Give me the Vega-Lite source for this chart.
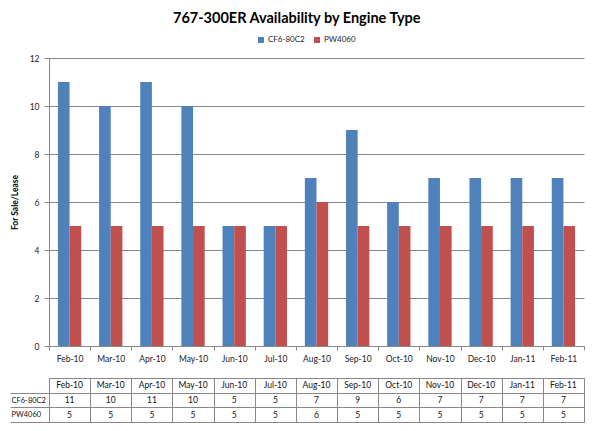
{
  "$schema": "https://vega.github.io/schema/vega-lite/v6.json",
  "padding": {"left": 9, "top": 10, "right": 11, "bottom": 5},
  "background": "white",
  "title": {"text": "767-300ER Availability by Engine Type", "font": "Lato", "fontSize": 14.5, "fontWeight": "bold", "color": "#000", "offset": 10, "anchor": "middle"},
  "config": {"font": "Lato", "view": {"stroke": null}},
  "data": {"values": [
    {"month": "Feb-10", "engine": "CF6-80C2", "value": 11},
    {"month": "Mar-10", "engine": "CF6-80C2", "value": 10},
    {"month": "Apr-10", "engine": "CF6-80C2", "value": 11},
    {"month": "May-10", "engine": "CF6-80C2", "value": 10},
    {"month": "Jun-10", "engine": "CF6-80C2", "value": 5},
    {"month": "Jul-10", "engine": "CF6-80C2", "value": 5},
    {"month": "Aug-10", "engine": "CF6-80C2", "value": 7},
    {"month": "Sep-10", "engine": "CF6-80C2", "value": 9},
    {"month": "Oct-10", "engine": "CF6-80C2", "value": 6},
    {"month": "Nov-10", "engine": "CF6-80C2", "value": 7},
    {"month": "Dec-10", "engine": "CF6-80C2", "value": 7},
    {"month": "Jan-11", "engine": "CF6-80C2", "value": 7},
    {"month": "Feb-11", "engine": "CF6-80C2", "value": 7},
    {"month": "Feb-10", "engine": "PW4060", "value": 5},
    {"month": "Mar-10", "engine": "PW4060", "value": 5},
    {"month": "Apr-10", "engine": "PW4060", "value": 5},
    {"month": "May-10", "engine": "PW4060", "value": 5},
    {"month": "Jun-10", "engine": "PW4060", "value": 5},
    {"month": "Jul-10", "engine": "PW4060", "value": 5},
    {"month": "Aug-10", "engine": "PW4060", "value": 6},
    {"month": "Sep-10", "engine": "PW4060", "value": 5},
    {"month": "Oct-10", "engine": "PW4060", "value": 5},
    {"month": "Nov-10", "engine": "PW4060", "value": 5},
    {"month": "Dec-10", "engine": "PW4060", "value": 5},
    {"month": "Jan-11", "engine": "PW4060", "value": 5},
    {"month": "Feb-11", "engine": "PW4060", "value": 5}
  ]},
  "spacing": 10,
  "resolve": {"scale": {"x": "independent", "y": "independent"}},
  "vconcat": [
    {
      "width": 535,
      "height": 288,
      "mark": {"type": "bar"},
      "encoding": {
        "x": {"field": "month", "type": "nominal", "sort": null,
          "scale": {"paddingInner": 0, "paddingOuter": 0},
          "axis": {"title": null, "labelAngle": 0, "tickBand": "extent", "tickSize": 4, "tickColor": "#888", "domainColor": "#888", "labelPadding": 4, "labelFontSize": 8.5, "labelColor": "#222"}},
        "xOffset": {"field": "engine", "type": "nominal", "sort": ["CF6-80C2", "PW4060"],
          "scale": {"paddingInner": 0, "paddingOuter": 0.766}},
        "y": {"field": "value", "type": "quantitative",
          "scale": {"domain": [0, 12]},
          "axis": {"title": "For Sale/Lease", "values": [0, 2, 4, 6, 8, 10, 12], "titleFontSize": 8.5, "titleFontWeight": "bold", "titleColor": "#000", "titlePadding": 10, "labelFontSize": 8.5, "labelColor": "#222", "tickSize": 5, "labelPadding": 5, "tickColor": "#888", "domainColor": "#888", "gridColor": "#888"}},
        "color": {"field": "engine", "type": "nominal",
          "scale": {"domain": ["CF6-80C2", "PW4060"], "range": ["#4F81BD", "#C0504D"]},
          "legend": {"orient": "none", "legendX": 208, "legendY": -22, "direction": "horizontal", "title": null, "symbolType": "square", "symbolSize": 36, "symbolStrokeWidth": 0, "labelFontSize": 8, "labelColor": "#222", "labelOffset": 3, "columnPadding": 8}}
      }
    },
    {
      "width": 535,
      "height": 44,
      "view": {"stroke": "#888"},
      "encoding": {
        "x": {"field": "month", "type": "nominal", "sort": null,
          "scale": {"paddingInner": 0, "paddingOuter": 0},
          "axis": {"title": null, "labels": false, "ticks": false, "domain": false, "grid": true, "tickBand": "extent", "gridColor": "#888"}}
      },
      "layer": [
        {
          "mark": {"type": "text", "fontSize": 8.5, "color": "#111"},
          "encoding": {
            "y": {"field": "engine", "type": "nominal",
              "scale": {"domain": ["header", "CF6-80C2", "PW4060"], "paddingInner": 0, "paddingOuter": 0},
              "axis": {"title": null, "grid": true, "gridColor": "#888", "tickBand": "extent", "tickSize": 39, "tickColor": {"condition": {"test": "datum.extra", "value": "transparent"}, "value": "#888"}, "domainColor": "#888", "labelAlign": "left", "labelPadding": -1, "labelFontSize": 7.5, "labelColor": "#111", "labelExpr": "datum.value === 'header' ? '' : datum.value"}},
            "text": {"field": "value", "type": "quantitative"}
          }
        },
        {
          "transform": [{"filter": "datum.engine === 'CF6-80C2'"}],
          "mark": {"type": "text", "fontSize": 8.5, "color": "#111"},
          "encoding": {
            "y": {"datum": "header", "type": "nominal"},
            "text": {"field": "month", "type": "nominal"}
          }
        }
      ]
    }
  ]
}
